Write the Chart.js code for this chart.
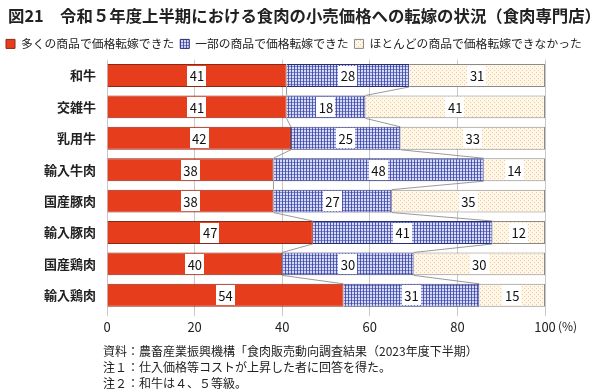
<!DOCTYPE html>
<html>
<head>
<meta charset="utf-8">
<script src="https://cdn.jsdelivr.net/npm/chart.js@4"></script>
<style>
body { margin: 0; background: #fff; }
#wrap { position: relative; width: 600px; height: 392px; font-family: "Noto Sans CJK JP", sans-serif; color: #222; }
#title { position: absolute; left: 8px; top: 3px; font-size: 16.4px; font-weight: bold; white-space: nowrap; }
#notes { position: absolute; left: 103px; top: 343px; font-size: 12px; line-height: 16px; white-space: nowrap; }
canvas { position: absolute; left: 0; top: 0; }
</style>
</head>
<body>
<div id="wrap">
  <canvas id="myChart" width="600" height="392"></canvas>
  <div id="title">図21　令和５年度上半期における食肉の小売価格への転嫁の状況（食肉専門店）</div>
  <div id="notes">
    <div>資料：農畜産業振興機構「食肉販売動向調査結果（2023年度下半期）</div>
    <div>注１：仕入価格等コストが上昇した者に回答を得た。</div>
    <div>注２：和牛は４、５等級。</div>
  </div>
</div>
<script>
var categories = ["和牛", "交雑牛", "乳用牛", "輸入牛肉", "国産豚肉", "輸入豚肉", "国産鶏肉", "輸入鶏肉"];
var seriesNames = ["多くの商品で価格転嫁できた", "一部の商品で価格転嫁できた", "ほとんどの商品で価格転嫁できなかった"];
var many = [41, 41, 42, 38, 38, 47, 40, 54];
var some = [28, 18, 25, 48, 27, 41, 30, 31];
var few = [31, 41, 33, 14, 35, 12, 30, 15];
var xTicks = [0, 20, 40, 60, 80, 100];

var FONT = '"Noto Sans CJK JP", sans-serif';

// blue plaid fill
function gridPattern() {
    var c = document.createElement("canvas");
    c.width = 6; c.height = 6;
    var g = c.getContext("2d");
    g.fillStyle = "#d6d9f3";
    g.fillRect(0, 0, 6, 6);
    g.fillStyle = "rgba(50,60,165,0.8)";
    g.fillRect(0, 0, 1, 6);
    g.fillRect(3, 0, 1, 6);
    g.fillStyle = "rgba(50,60,165,0.55)";
    g.fillRect(0, 0, 6, 1);
    g.fillRect(0, 3, 6, 1);
    return g.createPattern(c, "repeat");
}

// cream dotted fill
function dotPattern() {
    var c = document.createElement("canvas");
    c.width = 4; c.height = 4;
    var g = c.getContext("2d");
    g.fillStyle = "#fff7e8";
    g.fillRect(0, 0, 4, 4);
    g.fillStyle = "#f0c89a";
    g.fillRect(0, 0, 1, 1);
    g.fillRect(2, 2, 1, 1);
    return g.createPattern(c, "repeat");
}

var extras = {
    id: "extras",
    afterDatasetsDraw: function(chart) {
        var ctx = chart.ctx;
        ctx.save();
        // series lines between neighbouring bars
        ctx.strokeStyle = "#808080";
        ctx.lineWidth = 0.8;
        [0, 1].forEach(function(d) {
            var els = chart.getDatasetMeta(d).data;
            for (var i = 0; i < els.length - 1; i++) {
                var a = els[i], b = els[i + 1];
                ctx.beginPath();
                ctx.moveTo(a.x, a.y + a.height / 2);
                ctx.lineTo(b.x, b.y - b.height / 2);
                ctx.stroke();
            }
        });
        // value labels in white boxes
        ctx.font = "13px " + FONT;
        ctx.textAlign = "center";
        ctx.textBaseline = "middle";
        chart.data.datasets.forEach(function(ds, d) {
            chart.getDatasetMeta(d).data.forEach(function(el, i) {
                var cx = (el.x + el.base) / 2;
                var txt = String(ds.data[i]);
                var w = ctx.measureText(txt).width + 5;
                var h = el.height - 3;
                ctx.fillStyle = "#fff";
                ctx.fillRect(Math.round(cx - w / 2), Math.round(el.y - h / 2), Math.round(w), Math.round(h));
                ctx.fillStyle = "#111";
                ctx.fillText(txt, cx, el.y + 1);
            });
        });
        // unit after the last tick
        var xs = chart.scales.x;
        ctx.font = "12px " + FONT;
        ctx.textAlign = "left";
        ctx.fillStyle = "#222";
        ctx.fillText("(%)", xs.right + 13, xs.top + 15);
        ctx.restore();
    }
};

var ctx = document.getElementById("myChart");

var chart = new Chart(ctx, {
    type: "bar",
    data: {
        labels: categories,
        datasets: [{
            label: seriesNames[0],
            data: many,
            backgroundColor: "#e63d1d",
            borderColor: "#8a2a16",
            borderWidth: 1
        }, {
            label: seriesNames[1],
            data: some,
            backgroundColor: gridPattern(),
            borderColor: "#2a2f70",
            borderWidth: 1
        }, {
            label: seriesNames[2],
            data: few,
            backgroundColor: dotPattern(),
            borderColor: "#8a8a8a",
            borderWidth: 1
        }]
    },
    options: {
        responsive: false,
        animation: false,
        indexAxis: "y",
        layout: { padding: { top: 32, left: 0, right: 0, bottom: 0 } },
        datasets: {
            bar: { categoryPercentage: 1, barPercentage: 0.73 }
        },
        scales: {
            x: {
                stacked: true,
                min: 0,
                max: 100,
                afterBuildTicks: function(s) {
                    s.ticks = xTicks.map(function(v) { return { value: v }; });
                },
                afterFit: function(s) { s.height = 81; },
                grid: { color: "#c8c8c8", lineWidth: 1, tickLength: 5 },
                border: { display: false },
                ticks: { color: "#222", padding: 3, font: { size: 13, family: FONT } }
            },
            y: {
                stacked: true,
                afterFit: function(s) { s.width = 107; },
                grid: { display: false, drawTicks: false },
                border: { display: false },
                ticks: { color: "#222", padding: 11, font: { size: 13, weight: "bold", family: FONT } }
            },
            yRight: {
                type: "category",
                position: "right",
                afterFit: function(s) { s.width = 55; },
                grid: { display: false, drawTicks: false },
                border: { display: false },
                ticks: { display: false }
            }
        },
        plugins: {
            legend: {
                position: "top",
                align: "start",
                labels: {
                    boxWidth: 9,
                    boxHeight: 9,
                    padding: 6,
                    color: "#222",
                    font: { size: 11.8, family: FONT }
                }
            },
            tooltip: { enabled: false }
        }
    },
    plugins: [extras]
});
</script>
</body>
</html>
